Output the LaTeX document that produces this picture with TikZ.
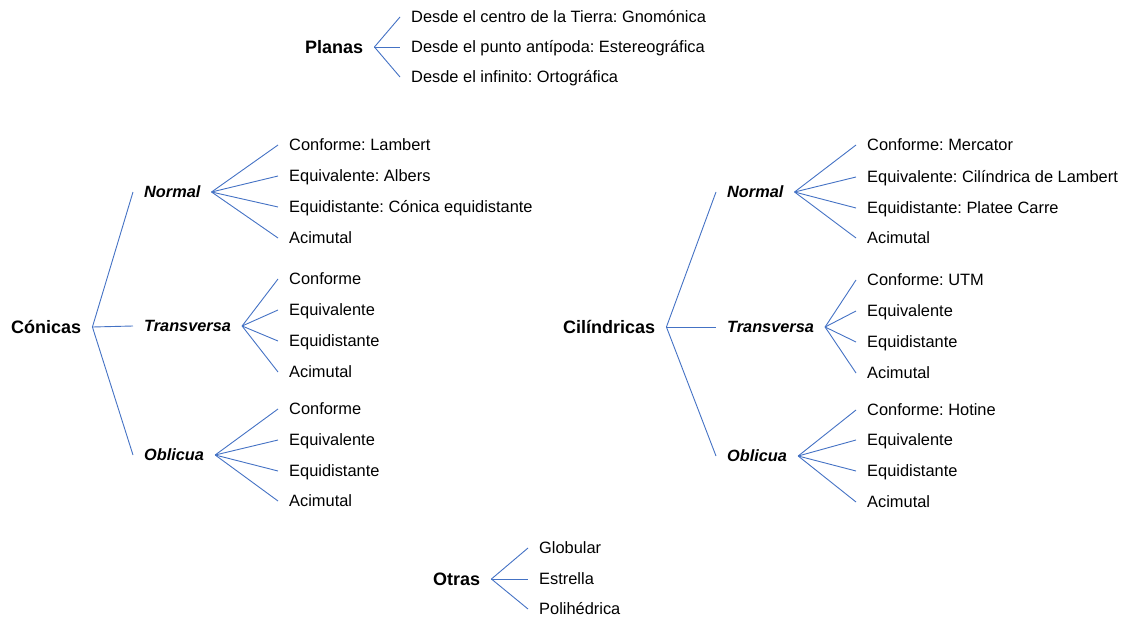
\documentclass[tikz,border=0pt]{standalone}
\usepackage{fontspec}
\setmainfont{Liberation Sans}
\frenchspacing
\definecolor{linkblue}{HTML}{4472C4}
\begin{document}
\begin{tikzpicture}[x=1pt,y=1pt,
  base/.style={anchor=west, inner xsep=11pt, inner ysep=0pt, text depth=0pt},
  top/.style={base, font=\fontsize{18}{21}\selectfont\bfseries, text height=13pt},
  mid/.style={base, font=\fontsize{16.3}{19}\selectfont\bfseries\itshape, text height=11.6pt},
  leaf/.style={base, font=\fontsize{16.4}{19}\selectfont, text height=11.7pt},
  conn/.style={draw=linkblue, line width=0.9pt}]
\useasboundingbox (0,0) rectangle (1125,-618);
% Planas
\node[top] (pl) at (294,-47) {Planas};
\node[leaf] (pl1) at (400,-17) {Desde el centro de la Tierra: Gnomónica};
\node[leaf] (pl2) at (400,-47) {Desde el punto antípoda: Estereográfica};
\node[leaf] (pl3) at (400,-77) {Desde el infinito: Ortográfica};
\foreach \c in {pl1,pl2,pl3} \draw[conn] (pl.east) -- (\c.west);
% Conicas
\node[top] (co) at (0,-327) {Cónicas};
\node[mid] (con) at (133,-192) {Normal};
\node[mid] (cot) at (133,-326) {Transversa};
\node[mid] (coo) at (133,-455) {Oblicua};
\foreach \c in {con,cot,coo} \draw[conn] (co.east) -- (\c.west);
\node[leaf] (con1) at (278,-145) {Conforme: Lambert};
\node[leaf] (con2) at (278,-176) {Equivalente: Albers};
\node[leaf] (con3) at (278,-207) {Equidistante: Cónica equidistante};
\node[leaf] (con4) at (278,-238) {Acimutal};
\foreach \c in {con1,con2,con3,con4} \draw[conn] (con.east) -- (\c.west);
\node[leaf] (cot1) at (278,-279) {Conforme};
\node[leaf] (cot2) at (278,-310) {Equivalente};
\node[leaf] (cot3) at (278,-341) {Equidistante};
\node[leaf] (cot4) at (278,-372) {Acimutal};
\foreach \c in {cot1,cot2,cot3,cot4} \draw[conn] (cot.east) -- (\c.west);
\node[leaf] (coo1) at (278,-409) {Conforme};
\node[leaf] (coo2) at (278,-440) {Equivalente};
\node[leaf] (coo3) at (278,-471) {Equidistante};
\node[leaf] (coo4) at (278,-501) {Acimutal};
\foreach \c in {coo1,coo2,coo3,coo4} \draw[conn] (coo.east) -- (\c.west);
% Cilindricas
\node[top] (ci) at (552,-327) {Cilíndricas};
\node[mid] (cin) at (716,-192) {Normal};
\node[mid] (cit) at (716,-327) {Transversa};
\node[mid] (cio) at (716,-456) {Oblicua};
\foreach \c in {cin,cit,cio} \draw[conn] (ci.east) -- (\c.west);
\node[leaf] (cin1) at (856,-145) {Conforme: Mercator};
\node[leaf] (cin2) at (856,-177) {Equivalente: Cilíndrica de Lambert};
\node[leaf] (cin3) at (856,-208) {Equidistante: Platee Carre};
\node[leaf] (cin4) at (856,-238) {Acimutal};
\foreach \c in {cin1,cin2,cin3,cin4} \draw[conn] (cin.east) -- (\c.west);
\node[leaf] (cit1) at (856,-280) {Conforme: UTM};
\node[leaf] (cit2) at (856,-311) {Equivalente};
\node[leaf] (cit3) at (856,-342) {Equidistante};
\node[leaf] (cit4) at (856,-373) {Acimutal};
\foreach \c in {cit1,cit2,cit3,cit4} \draw[conn] (cit.east) -- (\c.west);
\node[leaf] (cio1) at (856,-410) {Conforme: Hotine};
\node[leaf] (cio2) at (856,-440) {Equivalente};
\node[leaf] (cio3) at (856,-471) {Equidistante};
\node[leaf] (cio4) at (856,-502) {Acimutal};
\foreach \c in {cio1,cio2,cio3,cio4} \draw[conn] (cio.east) -- (\c.west);
% Otras
\node[top] (ot) at (422,-579) {Otras};
\node[leaf] (ot1) at (528,-548) {Globular};
\node[leaf] (ot2) at (528,-579) {Estrella};
\node[leaf] (ot3) at (528,-609) {Polihédrica};
\foreach \c in {ot1,ot2,ot3} \draw[conn] (ot.east) -- (\c.west);
\end{tikzpicture}
\end{document}
